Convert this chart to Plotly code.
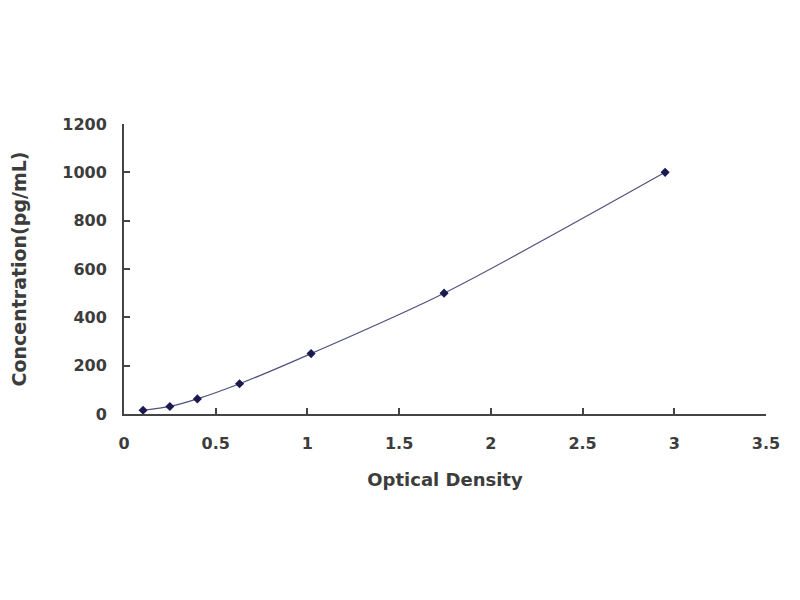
import plotly.graph_objects as go

od = [0.104, 0.25, 0.40, 0.63, 1.02, 1.745, 2.95]
conc = [15.6, 31.25, 62.5, 125, 250, 500, 1000]

x_ticks = [0, 0.5, 1, 1.5, 2, 2.5, 3, 3.5]
x_labels = ["0", "0.5", "1", "1.5", "2", "2.5", "3", "3.5"]
y_ticks = [0, 200, 400, 600, 800, 1000, 1200]
y_labels = ["0", "200", "400", "600", "800", "1000", "1200"]

FAM = "DejaVu Sans"
TXT = "#3c3c3c"

fig = go.Figure()
fig.add_trace(go.Scatter(
    x=od, y=conc, mode="lines+markers",
    line=dict(color="#50507e", width=1.2, shape="spline", smoothing=0.8),
    marker=dict(symbol="diamond", size=7, color="#1a1a50"),
    showlegend=False,
))

fig.update_layout(
    width=800, height=600,
    paper_bgcolor="white", plot_bgcolor="white",
    margin=dict(l=116, r=42, t=116, b=194),
    font=dict(family=FAM, size=16, color=TXT),
    xaxis=dict(range=[0, 3.5], tickvals=x_ticks, ticktext=x_labels,
               showgrid=False, zeroline=False, showline=True, automargin=False,
               linecolor="#444", linewidth=2, ticks="inside", ticklen=6,
               tickcolor="#444", tickwidth=2, ticklabelstandoff=14,
               tickfont=dict(family=FAM, size=16, color=TXT, weight="bold"),
               title=dict(text="Optical Density", standoff=21,
                          font=dict(family=FAM, size=18, color=TXT, weight="bold"))),
    yaxis=dict(range=[0, 1200], tickvals=y_ticks, ticktext=y_labels,
               showgrid=False, zeroline=False, showline=True, automargin=False,
               linecolor="#444", linewidth=2, ticks="inside", ticklen=6,
               tickcolor="#444", tickwidth=2, ticklabelstandoff=12,
               tickfont=dict(family=FAM, size=16, color=TXT, weight="bold"),
               title=dict(text="Concentration(pg/mL)", standoff=33,
                          font=dict(family=FAM, size=19, color=TXT, weight="bold"))),
)
fig.write_html("out.html")
